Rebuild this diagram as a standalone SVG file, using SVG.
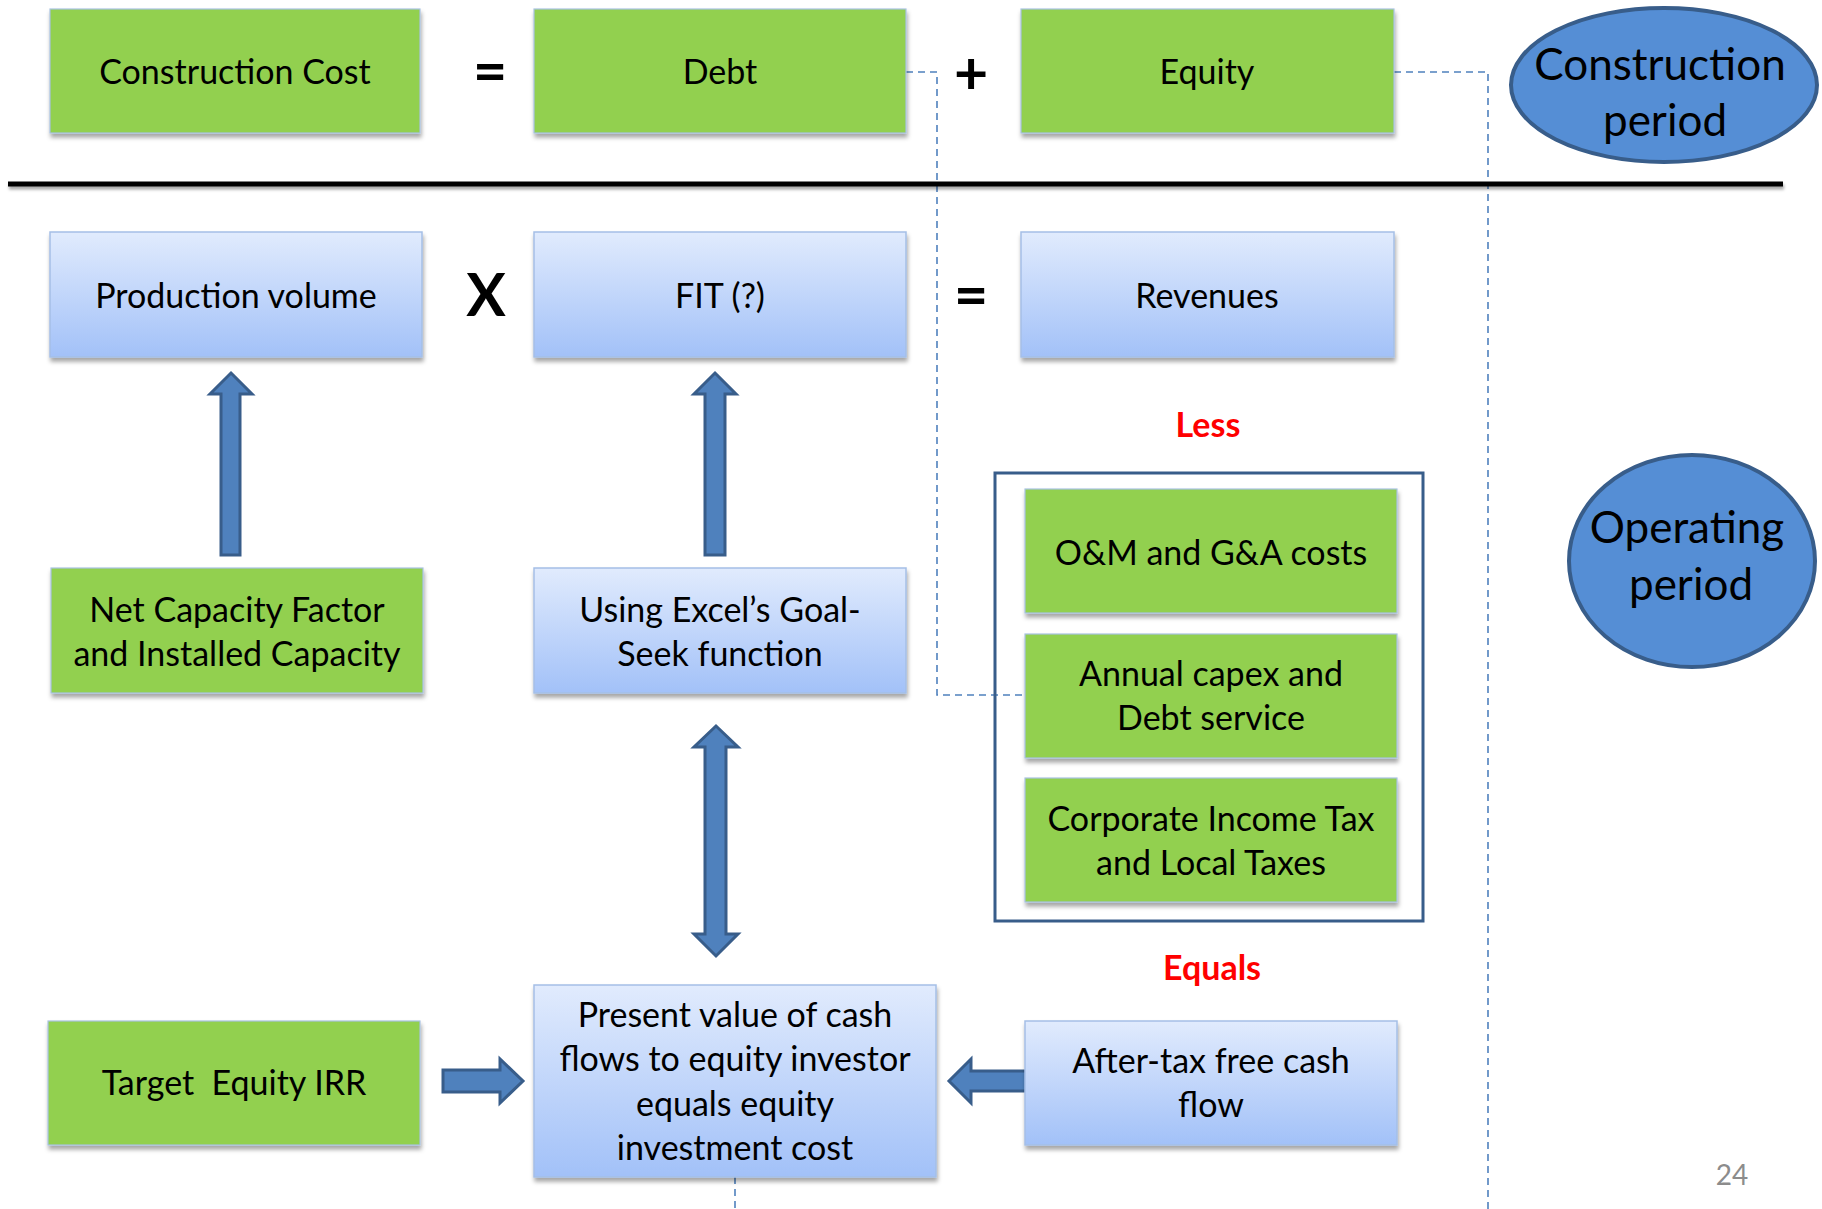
<svg xmlns="http://www.w3.org/2000/svg" width="1822" height="1209" viewBox="0 0 1822 1209">
<defs>
<linearGradient id="bg" x1="0" y1="0" x2="0" y2="1">
<stop offset="0" stop-color="#E1EBFD"/>
<stop offset="1" stop-color="#A2C1F8"/>
</linearGradient>
<filter id="sh" x="-10%" y="-10%" width="120%" height="130%">
<feDropShadow dx="1" dy="4" stdDeviation="2" flood-color="#000" flood-opacity="0.35"/>
</filter>
<filter id="lsh" filterUnits="userSpaceOnUse" x="0" y="170" width="1822" height="30">
<feDropShadow dx="1" dy="3" stdDeviation="1.5" flood-color="#000" flood-opacity="0.35"/>
</filter>
<style>
.g{fill:#92D050;stroke:#A9C2E2;stroke-width:1.2;filter:url(#sh)}
.b{fill:url(#bg);stroke:#A5BFE6;stroke-width:1.5;filter:url(#sh)}
.t{font-family:Lato,"Open Sans","Liberation Sans",sans-serif;font-size:34px;fill:#000;text-anchor:middle}
.op{font-family:Lato,"Liberation Sans",sans-serif;font-size:59px;font-weight:bold;fill:#000;text-anchor:middle}
.red{font-family:Lato,"Liberation Sans",sans-serif;font-size:34px;font-weight:bold;fill:#FF0000;text-anchor:middle}
.el{fill:#558ED5;stroke:#385D8A;stroke-width:4}
.et{font-family:Lato,"Liberation Sans",sans-serif;font-size:44px;fill:#000;text-anchor:middle}
.ar{fill:#4F81BD;stroke:#385D8A;stroke-width:3;stroke-linejoin:miter}
.dash{fill:none;stroke:#4F81BD;stroke-width:1.6;stroke-dasharray:7 5}
</style>
</defs>
<rect width="1822" height="1209" fill="#fff"/>

<g id="connectors">
<path class="dash" d="M906,72 H937 V695 H1023"/>
<path class="dash" d="M1394,72 H1488 V1209"/>
<path class="dash" d="M735,1177 V1209"/>
<polygon class="ar" points="231,373 252,394 240,394 240,555 221,555 221,394 210,394"/>
<polygon class="ar" points="715,373 736,394 725,394 725,555 705,555 705,394 694,394"/>
<polygon class="ar" points="716,726 738,747 726,747 726,934 738,934 716,956 694,934 705,934 705,747 694,747"/>
<polygon class="ar" points="443,1070 500,1070 500,1059 523,1081 500,1103 500,1092 443,1092"/>
<polygon class="ar" points="1028,1071 971,1071 971,1059 949,1081 971,1103 971,1091 1028,1091"/>
</g>

<g id="divider">
<rect x="8" y="181.5" width="1775" height="5" fill="#000" filter="url(#lsh)"/>
</g>

<g id="construction-cost"><rect class="g" x="50" y="9" width="370" height="124"/><text class="t" x="235" y="84">Construction Cost</text></g>
<g id="op-eq1"><text class="op" x="490" y="92">=</text></g>
<g id="debt"><rect class="g" x="534" y="9" width="372" height="124"/><text class="t" x="720" y="84">Debt</text></g>
<g id="op-plus"><text class="op" x="971" y="94">+</text></g>
<g id="equity"><rect class="g" x="1021" y="9" width="373" height="124"/><text class="t" x="1207" y="84">Equity</text></g>
<g id="construction-period"><ellipse class="el" cx="1664" cy="85" rx="153" ry="77"/><text class="et" x="1660" y="80">Construction</text><text class="et" x="1665" y="136">period</text></g>

<g id="production-volume"><rect class="b" x="50" y="232" width="372" height="125"/><text class="t" x="236" y="308">Production volume</text></g>
<g id="op-x"><text class="op" x="486" y="316">X</text></g>
<g id="fit"><rect class="b" x="534" y="232" width="372" height="125"/><text class="t" x="720" y="308">FIT (?)</text></g>
<g id="op-eq2"><text class="op" x="971" y="316">=</text></g>
<g id="revenues"><rect class="b" x="1021" y="232" width="373" height="125"/><text class="t" x="1207" y="308">Revenues</text></g>

<g id="net-capacity"><rect class="g" x="51" y="568" width="372" height="125"/><text class="t" x="237" y="622">Net Capacity Factor</text><text class="t" x="237" y="666">and Installed Capacity</text></g>
<g id="goal-seek"><rect class="b" x="534" y="568" width="372" height="125"/><text class="t" x="720" y="622">Using Excel’s Goal-</text><text class="t" x="720" y="666">Seek function</text></g>

<g id="less"><text class="red" x="1208" y="437">Less</text></g>
<g id="costs-container"><rect x="995" y="473" width="428" height="448" fill="none" stroke="#385D8A" stroke-width="3"/></g>
<g id="om-costs"><rect class="g" x="1025" y="489" width="372" height="124"/><text class="t" x="1211" y="565">O&amp;M and G&amp;A costs</text></g>
<g id="capex-debt"><rect class="g" x="1025" y="634" width="372" height="124"/><text class="t" x="1211" y="686">Annual capex and</text><text class="t" x="1211" y="730">Debt service</text></g>
<g id="taxes"><rect class="g" x="1025" y="778" width="372" height="124"/><text class="t" x="1211" y="831">Corporate Income Tax</text><text class="t" x="1211" y="875">and Local Taxes</text></g>
<g id="operating-period"><ellipse class="el" cx="1692" cy="561" rx="123" ry="106"/><text class="et" x="1687" y="543">Operating</text><text class="et" x="1691" y="600">period</text></g>

<g id="equals"><text class="red" x="1212" y="980">Equals</text></g>
<g id="target-irr"><rect class="g" x="48" y="1021" width="372" height="124"/><text class="t" x="234" y="1095" xml:space="preserve">Target  Equity IRR</text></g>
<g id="present-value"><rect class="b" x="534" y="985" width="402" height="192"/><text class="t" x="735" y="1027">Present value of cash</text><text class="t" x="735" y="1071">flows to equity investor</text><text class="t" x="735" y="1116">equals equity</text><text class="t" x="735" y="1160">investment cost</text></g>
<g id="after-tax"><rect class="b" x="1025" y="1021" width="372" height="124"/><text class="t" x="1211" y="1073">After-tax free cash</text><text class="t" x="1211" y="1117">flow</text></g>

<g id="page-number"><text x="1732" y="1185" font-family="Lato,'Liberation Sans',sans-serif" font-size="28" fill="#8C8C8C" text-anchor="middle">24</text></g>
</svg>
